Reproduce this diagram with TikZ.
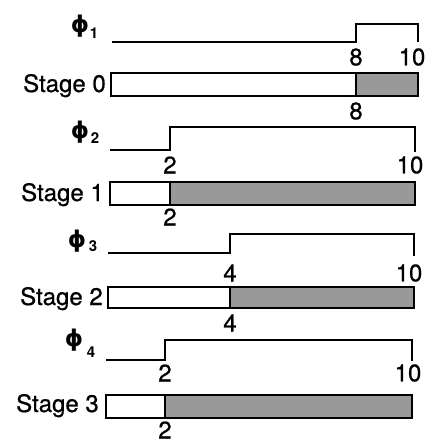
\documentclass[tikz,border=0pt]{standalone}
\usepackage{fontspec}
\setmainfont{TeX Gyre Heros}
\newfontfamily\lblfont{TeX Gyre Heros}[FakeBold=0.7]
\newfontfamily\phifont{DejaVu Sans}
\begin{document}
\begin{tikzpicture}[x=1pt,y=-1pt,
  lbl/.style={inner sep=0pt, font=\lblfont\fontsize{24}{24}\selectfont},
  stg/.style={lbl, anchor=base east},
  phi/.style={inner sep=0pt, font=\phifont\bfseries\fontsize{23}{23}\selectfont},
  sub/.style={inner sep=0pt, font=\bfseries\fontsize{15}{15}\selectfont},
  wave/.style={line width=2.2pt, line join=miter},
  bar/.style={line width=2.4pt},
  shade/.style={fill=black!40}]
\useasboundingbox (0,0) rectangle (441,445);
% ---- Stage 0
\node[phi] (p1) at (80,26) {ϕ}; \node[sub] (s1) at (94,33) {1};
\draw[wave] (112,42) -- (356,42) -- (356,24) -- (418,24) -- (418,42);
\node[lbl] (a8) at (356,57) {8}; \node[lbl] (a10) at (412,57) {10};
\fill[shade] (356,73) rectangle (418,96);
\draw[bar] (111,73) rectangle (418,96); \draw[bar] (356,73) -- (356,96);
\node[stg] (st0) at (106,92) {Stage 0};
\node[lbl] (b8) at (356,111) {8};
% ---- Stage 1
\node[phi] (p2) at (80,132) {ϕ}; \node[sub] (s2) at (95,138) {2};
\draw[wave] (110,150) -- (170,150) -- (170,127) -- (415,127) -- (415,152);
\node[lbl] (a2) at (170,165) {2}; \node[lbl] (a10b) at (410,165) {10};
\fill[shade] (170,182) rectangle (415,205);
\draw[bar] (110,182) rectangle (415,205); \draw[bar] (170,182) -- (170,205);
\node[stg] (st1) at (104,201) {Stage 1};
\node[lbl] (b2) at (170,217) {2};
% ---- Stage 2
\node[phi] (p3) at (77,241) {ϕ}; \node[sub] (s3) at (93,246) {3};
\draw[wave] (108,253) -- (230,253) -- (230,234) -- (414,234) -- (414,256);
\node[lbl] (a4) at (230,273) {4}; \node[lbl] (a10c) at (409,273) {10};
\fill[shade] (230,287) rectangle (414,308);
\draw[bar] (108,287) rectangle (414,308); \draw[bar] (230,287) -- (230,308);
\node[stg] (st2) at (103,305) {Stage 2};
\node[lbl] (b4) at (230,323) {4};
% ---- Stage 3
\node[phi] (p4) at (74,340) {ϕ}; \node[sub] (s4) at (91,352) {4};
\draw[wave] (106,360) -- (165,360) -- (165,340) -- (412,340) -- (412,361);
\node[lbl] (a2b) at (165,373) {2}; \node[lbl] (a10d) at (408,373) {10};
\fill[shade] (165,395) rectangle (412,418);
\draw[bar] (106,395) rectangle (412,418); \draw[bar] (165,395) -- (165,418);
\node[stg] (st3) at (99,412) {Stage 3};
\node[lbl] (b2b) at (165,430) {2};
\end{tikzpicture}
\end{document}
